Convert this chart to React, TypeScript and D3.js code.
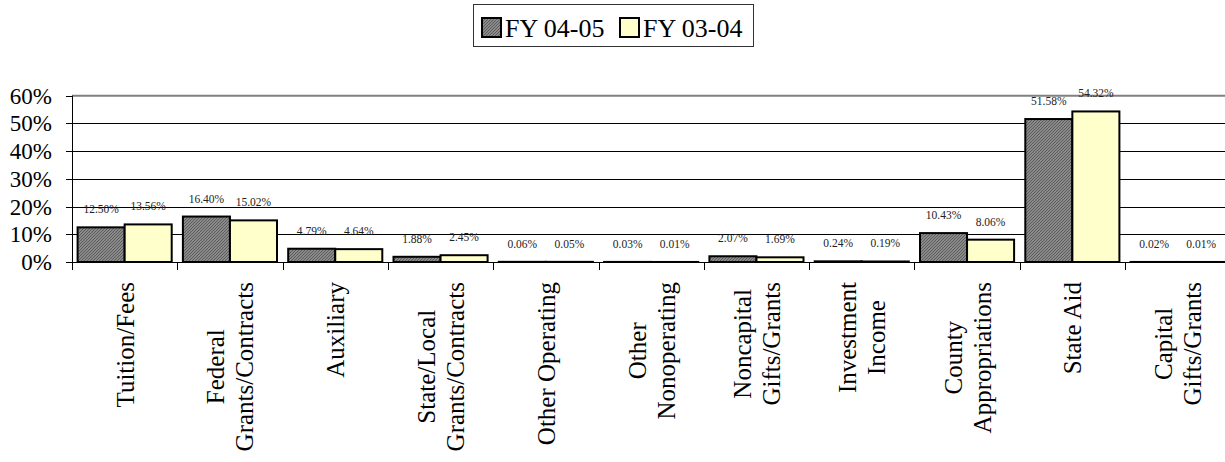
import * as d3 from "d3";
import { useEffect, useRef } from "react";

const categories = [
  "Tuition/Fees",
  "Federal\nGrants/Contracts",
  "Auxiliary",
  "State/Local\nGrants/Contracts",
  "Other Operating",
  "Other\nNonoperating",
  "Noncapital\nGifts/Grants",
  "Investment\nIncome",
  "County\nAppropriations",
  "State Aid",
  "Capital\nGifts/Grants",
];
const seriesNames = ["FY 04-05", "FY 03-04"];
const fy0405 = [12.5, 16.4, 4.79, 1.88, 0.06, 0.03, 2.07, 0.24, 10.43, 51.58, 0.02];
const fy0304 = [13.56, 15.02, 4.64, 2.45, 0.05, 0.01, 1.69, 0.19, 8.06, 54.32, 0.01];
const yTicks = [0, 10, 20, 30, 40, 50, 60];

const W = 1225;
const H = 462;
const FONT = '"Liberation Serif", "Times New Roman", Tinos, "DejaVu Serif", serif';

export default function App() {
  const ref = useRef<SVGSVGElement | null>(null);

  useEffect(() => {
    if (!ref.current) return;
    const svg = d3.select(ref.current);
    svg.selectAll("*").remove();

    const left = 72;
    const bandW = 105.3;
    const zeroY = 262;
    const topY = 95.7;

    const x = d3
      .scaleBand<number>()
      .domain(categories.map((_, i) => i))
      .range([left, left + bandW * categories.length])
      .paddingInner(0)
      .paddingOuter(0);
    const inner = d3
      .scaleBand<number>()
      .domain([0, 1])
      .range([5.6, bandW - 5.6]);
    const y = d3.scaleLinear().domain([0, 60]).range([zeroY, topY]);

    // hatch pattern for dark series
    const defs = svg.append("defs");
    const pat = defs
      .append("pattern")
      .attr("id", "hatch")
      .attr("patternUnits", "userSpaceOnUse")
      .attr("width", 3)
      .attr("height", 3);
    pat.append("rect").attr("width", 3).attr("height", 3).attr("fill", "#8a8a8a");
    pat
      .append("path")
      .attr("d", "M0,3 L3,0 M-1,1 L1,-1 M2,4 L4,2")
      .attr("stroke", "#5c5c5c")
      .attr("stroke-width", 1);

    // gridlines
    svg
      .append("g")
      .selectAll("line")
      .data(yTicks.filter((t) => t > 0 && t < 60))
      .join("line")
      .attr("x1", left)
      .attr("x2", W)
      .attr("y1", (d) => Math.round(y(d)) + 0.5)
      .attr("y2", (d) => Math.round(y(d)) + 0.5)
      .attr("stroke", "#000")
      .attr("stroke-width", 1);
    svg
      .append("line")
      .attr("x1", left)
      .attr("x2", W)
      .attr("y1", y(60))
      .attr("y2", y(60))
      .attr("stroke", "#808080")
      .attr("stroke-width", 2);

    // y axis
    svg
      .append("line")
      .attr("x1", left + 0.5)
      .attr("x2", left + 0.5)
      .attr("y1", y(60))
      .attr("y2", zeroY + 8)
      .attr("stroke", "#000");
    svg
      .append("g")
      .selectAll("line")
      .data(yTicks)
      .join("line")
      .attr("x1", left - 6)
      .attr("x2", left)
      .attr("y1", (d) => Math.round(y(d)) + 0.5)
      .attr("y2", (d) => Math.round(y(d)) + 0.5)
      .attr("stroke", "#000");
    svg
      .append("g")
      .selectAll("text")
      .data(yTicks)
      .join("text")
      .attr("x", 52)
      .attr("y", (d) => y(d) + 8)
      .attr("text-anchor", "end")
      .style("font-family", FONT)
      .style("font-size", "23px")
      .text((d) => `${d}%`);

    // bars
    const series = [fy0405, fy0304];
    const fills = ["url(#hatch)", "#FFFFCC"];
    series.forEach((vals, s) => {
      svg
        .append("g")
        .selectAll("rect")
        .data(vals)
        .join("rect")
        .attr("x", (_, i) => x(i)! + inner(s)!)
        .attr("width", inner.bandwidth())
        .attr("y", (d) => y(d))
        .attr("height", (d) => zeroY - y(d))
        .attr("fill", fills[s])
        .attr("stroke", "#000")
        .attr("stroke-width", 2);
      svg
        .append("g")
        .selectAll("text")
        .data(vals)
        .join("text")
        .attr("x", (_, i) => x(i)! + inner(s)! + inner.bandwidth() / 2)
        .attr("y", (d) => y(d) - 14)
        .attr("text-anchor", "middle")
        .style("font-family", FONT)
        .style("font-size", "11.5px")
        .attr("fill", "#222")
        .text((d) => `${d.toFixed(2)}%`);
    });

    // x axis
    svg
      .append("line")
      .attr("x1", left)
      .attr("x2", W)
      .attr("y1", zeroY + 0.5)
      .attr("y2", zeroY + 0.5)
      .attr("stroke", "#000");
    svg
      .append("g")
      .selectAll("line")
      .data(d3.range(categories.length + 1))
      .join("line")
      .attr("x1", (i) => Math.round(left + bandW * i) + 0.5)
      .attr("x2", (i) => Math.round(left + bandW * i) + 0.5)
      .attr("y1", zeroY)
      .attr("y2", zeroY + 8)
      .attr("stroke", "#000");

    // category labels, rotated, block top at y=282
    const lineH = 29;
    categories.forEach((cat, i) => {
      const lines = cat.split("\n");
      const cx = x(i)! + x.bandwidth() / 2;
      const g = svg.append("g").attr("transform", `translate(${cx},0) rotate(-90)`);
      const texts = lines.map((ln) =>
        g
          .append("text")
          .style("font-family", FONT)
          .style("font-size", "25px")
          .attr("text-anchor", "middle")
          .text(ln)
      );
      const maxLen = d3.max(texts, (t) => (t.node() as SVGTextElement).getComputedTextLength()) || 0;
      texts.forEach((t, k) => {
        t.attr("x", -(282 + maxLen / 2)).attr("y", 9 + (k - (lines.length - 1) / 2) * lineH);
      });
    });

    // legend
    const lg = svg.append("g");
    lg.append("rect")
      .attr("x", 473.5)
      .attr("y", 4.5)
      .attr("width", 280)
      .attr("height", 42)
      .attr("fill", "#fff")
      .attr("stroke", "#333")
      .attr("stroke-width", 1);
    const lx = [482, 620];
    seriesNames.forEach((n, s) => {
      lg.append("rect")
        .attr("x", lx[s])
        .attr("y", 18)
        .attr("width", 19)
        .attr("height", 19)
        .attr("fill", fills[s])
        .attr("stroke", "#000")
        .attr("stroke-width", 2);
      lg.append("text")
        .attr("x", lx[s] + 23)
        .attr("y", 37)
        .style("font-family", FONT)
        .style("font-size", "26px")
        .text(n);
    });
  }, []);

  return (
    <svg
      ref={ref}
      width={W}
      height={H}
      style={{ position: "absolute", left: 0, top: 0, background: "#fff" }}
    />
  );
}
